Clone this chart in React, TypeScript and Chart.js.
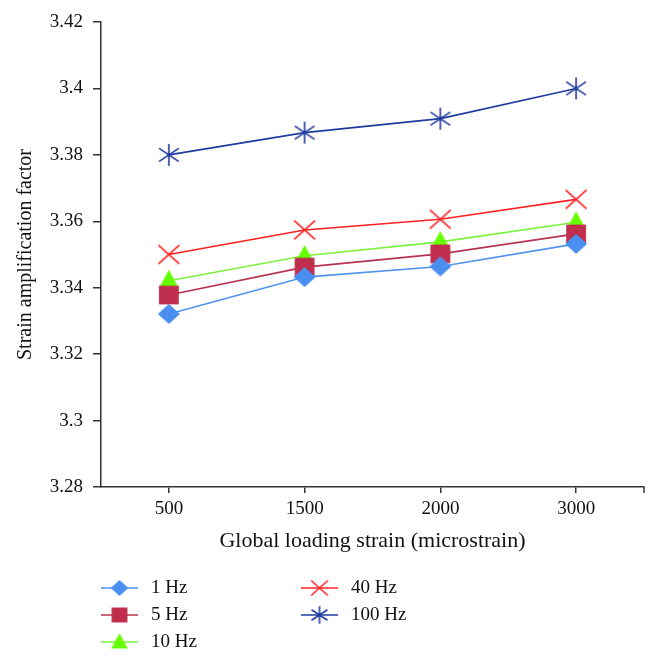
import React, { useEffect, useRef } from "react";
import { Chart, registerables } from "chart.js";

Chart.register(...registerables);

const categories = ["500", "1500", "2000", "3000"];
const seriesLabels = ["1 Hz", "5 Hz", "10 Hz", "40 Hz", "100 Hz"];
const hz1 = [3.3321, 3.3432, 3.3464, 3.3532];
const hz5 = [3.3378, 3.3462, 3.3502, 3.3562];
const hz10 = [3.3421, 3.3496, 3.3538, 3.3597];
const hz40 = [3.35, 3.3574, 3.3606, 3.3666];
const hz100 = [3.38, 3.3867, 3.3909, 3.4];
const yTicksMin = 3.28;
const yTicksMax = 3.42;
const yStep = 0.02;

const FONT = "'Liberation Serif', 'DejaVu Serif', serif";

function makeMarker(kind: string, color: string, scale = 1): HTMLCanvasElement {
  const c = document.createElement("canvas");
  const S = 28;
  c.width = S;
  c.height = S;
  const ctx = c.getContext("2d")!;
  const m = S / 2;
  ctx.fillStyle = color;
  ctx.strokeStyle = color;
  ctx.lineWidth = 1.6;
  const r = 11 * scale;
  if (kind === "diamond") {
    ctx.beginPath();
    ctx.moveTo(m, m - r * 0.9);
    ctx.lineTo(m + r, m);
    ctx.lineTo(m, m + r * 0.9);
    ctx.lineTo(m - r, m);
    ctx.closePath();
    ctx.fill();
  } else if (kind === "square") {
    ctx.fillRect(m - r * 0.9, m - r * 0.85, 1.8 * r, 1.7 * r);
  } else if (kind === "triangle") {
    ctx.beginPath();
    ctx.moveTo(m, m - r);
    ctx.lineTo(m + r * 0.95, m + r * 0.75);
    ctx.lineTo(m - r * 0.95, m + r * 0.75);
    ctx.closePath();
    ctx.fill();
  } else if (kind === "x") {
    ctx.beginPath();
    ctx.moveTo(m - r * 0.95, m - r * 0.85);
    ctx.lineTo(m + r * 0.95, m + r * 0.85);
    ctx.moveTo(m + r * 0.95, m - r * 0.85);
    ctx.lineTo(m - r * 0.95, m + r * 0.85);
    ctx.stroke();
  } else if (kind === "star") {
    ctx.beginPath();
    ctx.moveTo(m, m - r);
    ctx.lineTo(m, m + r);
    ctx.moveTo(m - r * 0.9, m - r * 0.6);
    ctx.lineTo(m + r * 0.9, m + r * 0.6);
    ctx.moveTo(m + r * 0.9, m - r * 0.6);
    ctx.lineTo(m - r * 0.9, m + r * 0.6);
    ctx.stroke();
  }
  return c;
}

export default function App() {
  const ref = useRef<HTMLCanvasElement | null>(null);

  useEffect(() => {
    document.body.style.margin = "0";
    const canvas = ref.current!;
    const styles = [
      { kind: "diamond", line: "#4f93ee", fill: "#4a8ff0" },
      { kind: "square", line: "#b83350", fill: "#c02e4e" },
      { kind: "triangle", line: "#7cf23c", fill: "#66ff00" },
      { kind: "x", line: "#ff2222", fill: "#ff2222" },
      { kind: "star", line: "#1f3c9e", fill: "#1f3c9e" },
    ];
    const seriesData = [hz1, hz5, hz10, hz40, hz100];
    const markers = styles.map((s) => makeMarker(s.kind, s.fill));
    const legendMarkers = styles.map((s) => makeMarker(s.kind, s.fill, 0.8));

    const datasets = seriesData.map((d, i) => ({
      label: seriesLabels[i],
      data: d,
      borderColor: styles[i].line,
      backgroundColor: styles[i].fill,
      borderWidth: 1.6,
      pointStyle: markers[i] as any,
      pointRadius: 10,
      tension: 0,
      fill: false,
    }));

    const extras = {
      id: "extras",
      afterDraw(chart: any) {
        const ctx = chart.ctx;
        const area = chart.chartArea;
        // right end tick on the x axis
        ctx.save();
        ctx.strokeStyle = "#333";
        ctx.lineWidth = 1.5;
        ctx.beginPath();
        ctx.moveTo(area.right, area.bottom);
        ctx.lineTo(area.right, area.bottom + 6);
        ctx.stroke();
        ctx.restore();

        // legend
        const cols = [
          { x: 101, items: [0, 1, 2] },
          { x: 301, items: [3, 4] },
        ];
        const rowY = [588, 615, 642];
        ctx.save();
        ctx.font = `19px ${FONT}`;
        ctx.textBaseline = "middle";
        ctx.fillStyle = "#111";
        cols.forEach((col) => {
          col.items.forEach((idx, r) => {
            const y = rowY[r];
            const ds = chart.data.datasets[idx];
            ctx.strokeStyle = ds.borderColor;
            ctx.lineWidth = 1.6;
            ctx.beginPath();
            ctx.moveTo(col.x, y);
            ctx.lineTo(col.x + 37, y);
            ctx.stroke();
            const mk = legendMarkers[idx];
            ctx.drawImage(mk, col.x + 18.5 - mk.width / 2, y - mk.height / 2);
            ctx.fillText(ds.label, col.x + 50, y);
          });
        });
        ctx.restore();
      },
    };

    const chart = new Chart(canvas, {
      type: "line",
      data: { labels: categories, datasets },
      options: {
        animation: false,
        responsive: false,
        maintainAspectRatio: false,
        layout: { padding: { left: 0, right: 14, top: 22, bottom: 105 } },
        plugins: { legend: { display: false }, tooltip: { enabled: false } },
        scales: {
          x: {
            type: "category",
            offset: true,
            grid: {
              offset: false,
              drawOnChartArea: false,
              drawTicks: true,
              tickLength: 6,
              color: "#333",
              lineWidth: 1.5,
            },
            border: { display: true, color: "#333", width: 1.5 },
            ticks: {
              color: "#111",
              font: { family: FONT, size: 19 },
              padding: 5,
            },
            title: {
              display: true,
              text: "Global loading strain (microstrain)",
              color: "#111",
              font: { family: FONT, size: 22 },
              padding: { top: 2, bottom: 5 },
            },
            afterFit(scale: any) {
              scale.height = 72;
            },
          },
          y: {
            min: yTicksMin,
            max: yTicksMax,
            grid: {
              drawOnChartArea: false,
              drawTicks: true,
              tickLength: 8,
              color: "#333",
              lineWidth: 1.5,
            },
            border: { display: true, color: "#333", width: 1.5 },
            ticks: {
              stepSize: yStep,
              color: "#111",
              font: { family: FONT, size: 19 },
              padding: 10,
              callback: (v: any) => String(Number(Number(v).toFixed(2))),
            },
            title: {
              display: true,
              text: "Strain amplification factor",
              color: "#111",
              font: { family: FONT, size: 20 },
              padding: { top: 14, bottom: 0 },
            },
            afterFit(scale: any) {
              scale.width = 101;
            },
          },
        },
      },
      plugins: [extras],
    });
    return () => chart.destroy();
  }, []);

  return (
    <div style={{ width: 658, height: 664, background: "#fff" }}>
      <canvas ref={ref} width={658} height={664} style={{ display: "block" }} />
    </div>
  );
}
